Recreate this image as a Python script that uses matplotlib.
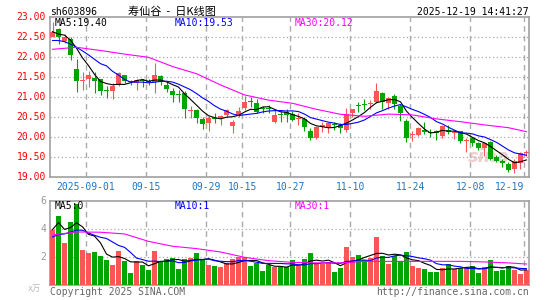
import numpy as np
import pandas as pd
import matplotlib
matplotlib.use('Agg')
import matplotlib.pyplot as plt

# 寿仙谷 sh603896 daily K-line, 80 sessions (2025-08-22 .. 2025-12-19)
opens = [22.52, 22.70, 22.42, 22.47, 21.72, 21.42, 21.47, 21.49, 21.45, 21.18,
         21.17, 21.31, 21.56, 21.40, 21.37, 21.44, 21.41, 21.39, 21.53, 21.31,
         21.16, 21.09, 21.10, 20.67, 20.68, 20.45, 20.37, 20.49, 20.48, 20.56,
         20.29, 20.53, 20.73, 20.90, 20.86, 20.73, 20.74, 20.38, 20.59, 20.64,
         20.58, 20.47, 20.46, 20.16, 19.99, 20.27, 20.27, 20.33, 20.31, 20.18,
         20.60, 20.80, 20.83, 20.84, 20.875, 21.10, 20.85, 21.04, 20.79, 20.41,
         20.05, 20.06, 20.18, 20.13, 20.16, 20.04, 20.18, 20.12, 20.16, 19.92,
         19.975, 19.85, 19.74, 19.875, 19.50, 19.42, 19.33, 19.21, 19.35, 19.62]
highs = [22.89, 22.73, 22.58, 22.50, 21.95, 21.64, 21.67, 21.64, 21.47, 21.28,
         21.35, 21.63, 21.57, 21.44, 21.45, 21.47, 21.45, 21.865, 21.55, 21.38,
         21.24, 21.18, 21.15, 20.79, 20.71, 20.52, 20.53, 20.60, 20.555, 20.72,
         20.43, 20.77, 21.03, 21.00, 20.95, 20.79, 20.81, 20.70, 20.66, 20.70,
         20.66, 20.60, 20.52, 20.23, 20.29, 20.375, 20.39, 20.375, 20.35, 20.74,
         20.71, 20.875, 20.95, 20.93, 21.35, 21.125, 21.02, 21.075, 20.825, 20.46,
         20.16, 20.27, 20.375, 20.21, 20.18, 20.31, 20.31, 20.18, 20.17, 19.99,
         20.02, 19.89, 19.89, 19.91, 19.56, 19.46, 19.39, 19.47, 19.625, 19.68]
lows = [22.50, 22.33, 22.37, 21.93, 21.14, 21.18, 21.25, 21.12, 21.06, 20.975,
        20.96, 21.29, 21.36, 21.30, 21.18, 21.27, 21.30, 21.115, 21.30, 21.13,
        20.875, 20.89, 20.49, 20.49, 20.35, 20.20, 20.17, 20.35, 20.30, 20.51,
        20.12, 20.50, 20.68, 20.765, 20.60, 20.60, 20.60, 20.37, 20.375, 20.375,
        20.40, 20.31, 20.16, 19.93, 19.96, 20.125, 20.10, 20.18, 20.10, 20.125,
        20.52, 20.64, 20.68, 20.71, 20.85, 20.71, 20.71, 20.71, 20.41, 19.89,
        19.91, 20.04, 20.075, 20.02, 19.93, 19.99, 20.075, 19.96, 19.85, 19.64,
        19.79, 19.68, 19.54, 19.43, 19.39, 19.27, 19.14, 19.10, 19.21, 19.54]
closes = [22.64, 22.52, 22.50, 22.06, 21.42, 21.43, 21.55, 21.41, 21.17, 21.16,
          21.28, 21.60, 21.40, 21.38, 21.43, 21.41, 21.38, 21.55, 21.39, 21.20,
          21.07, 21.07, 20.71, 20.69, 20.48, 20.33, 20.49, 20.47, 20.54, 20.68,
          20.39, 20.66, 20.89, 20.88, 20.64, 20.70, 20.72, 20.56, 20.57, 20.56,
          20.43, 20.48, 20.27, 19.99, 20.27, 20.31, 20.35, 20.31, 20.23, 20.575,
          20.70, 20.78, 20.82, 20.87, 21.16, 20.875, 20.975, 20.83, 20.60, 19.99,
          20.07, 20.24, 20.125, 20.11, 20.10, 20.29, 20.14, 20.13, 19.91, 19.94,
          19.87, 19.74, 19.85, 19.46, 19.41, 19.35, 19.18, 19.41, 19.60, 19.63]
volumes = [3.98, 4.98, 3.02, 4.52, 5.81, 2.55, 2.31, 2.38, 2.07, 1.83,
           1.48, 2.48, 1.71, 0.88, 1.76, 1.48, 1.12, 2.48, 1.71, 1.88,
           1.95, 1.19, 1.88, 1.95, 2.31, 1.88, 1.48, 1.36, 1.31, 1.60,
           1.88, 2.02, 2.00, 1.36, 1.60, 1.05, 1.48, 1.33, 1.29, 1.33,
           1.83, 1.36, 1.88, 2.31, 1.60, 1.52, 1.67, 0.95, 1.24, 2.74,
           2.00, 2.14, 1.83, 1.95, 3.45, 2.07, 1.52, 2.12, 1.71, 2.38,
           1.36, 1.24, 1.17, 0.95, 0.95, 1.24, 1.52, 1.17, 1.24, 1.24,
           1.36, 0.88, 1.31, 1.81, 1.05, 1.12, 1.36, 1.12, 0.81, 1.10]

ma10_head = [22.42, 22.42, 22.39, 22.33, 22.25, 22.16, 22.06, 21.95, 21.84]
vol_ma10_head = [3.45, 3.62, 3.67, 3.79, 3.95, 3.93, 3.74, 3.57, 3.43]
ma_idx = list(range(0, 80, 4)) + [79]
ma30 = [22.20, 22.25, 22.17, 22.08, 22.00, 21.77, 21.59, 21.31, 21.06, 20.93, 20.85,
        20.70, 20.575, 20.525, 20.58, 20.56, 20.46, 20.39, 20.31, 20.24, 20.14]
vol_ma30 = [3.60, 3.81, 3.79, 3.67, 3.14, 2.79, 2.62, 2.38, 2.00, 1.76, 1.64,
            1.60, 1.60, 1.71, 1.71, 1.71, 1.71, 1.71, 1.67, 1.60, 1.52]

tick_idx = [6, 16, 26, 32, 40, 50, 60, 70, 79]
tick_labels = ['2025-09-01', '09-15', '09-29', '10-15', '10-27', '11-10', '11-24', '12-08', '12-19']
price_ticks = [19.0, 19.5, 20.0, 20.5, 21.0, 21.5, 22.0, 22.5, 23.0]
vol_ticks = [2, 4, 6]

RED = '#fc5555'
GREEN = '#00a600'
GRID = '#aaaaaa'
MONO = 'DejaVu Sans Mono'
W, H = 545, 300

df = pd.DataFrame({'open': opens, 'high': highs, 'low': lows, 'close': closes, 'vol': volumes})
df['up'] = df['close'] >= df['open']
df['ma5'] = df['close'].rolling(5, min_periods=1).mean()
df['ma10'] = df['close'].rolling(10).mean()
df.loc[:8, 'ma10'] = ma10_head
df['vma5'] = df['vol'].rolling(5, min_periods=1).mean()
df['vma10'] = df['vol'].rolling(10).mean()
df.loc[:8, 'vma10'] = vol_ma10_head
x = np.arange(len(df))
colors = np.where(df['up'], RED, GREEN)

fig = plt.figure(figsize=(W / 100, H / 100), dpi=100)
ax = fig.add_axes([50 / W, 1 - 177.3 / H, 479 / W, 160 / H])
axv = fig.add_axes([50 / W, 1 - 285.3 / H, 479 / W, 84 / H])


def ftext(px, py, s, **kw):
    fig.text(px / W, 1 - py / H, s, va='center', **kw)


for a in (ax, axv):
    a.set_xlim(-0.42, 79.42)
    a.set_xticks([])
    a.set_yticks([])
    for sp in a.spines.values():
        sp.set_color('#a0a0a0')
        sp.set_linewidth(1.2)
    for t in tick_idx:
        a.axvline(t - 0.4, color=GRID, lw=1.0, ls=(0, (4, 3)), zorder=1)

ax.set_ylim(19, 23)
for p in price_ticks[1:-1]:
    ax.axhline(p, color=GRID, lw=0.9, ls=(0, (1, 2)), zorder=1)
axv.set_ylim(0, 6)
for v in vol_ticks[:-1]:
    axv.axhline(v, color=GRID, lw=0.9, ls=(0, (1, 2)), zorder=1)

# candles
ax.vlines(x, df['low'], df['high'], colors=colors, lw=0.8, zorder=3)
body_low = np.minimum(df['open'], df['close'])
body_h = np.maximum((df['close'] - df['open']).abs(), 0.025)
ax.bar(x, body_h, bottom=body_low, width=0.8, color=colors, lw=0, zorder=3)

ax.plot(x, df['ma5'], color='black', lw=0.8, zorder=4)
ax.plot(x, df['ma10'], color='#0000ff', lw=0.8, zorder=4)
ax.plot(ma_idx, ma30, color='#ff00ff', lw=0.8, zorder=4)

ax.text(0.96, 0.07, 'sina', transform=ax.transAxes, ha='right', va='bottom',
        fontsize=13, fontweight='bold', fontstyle='italic', color='#e0b0b0', alpha=0.6, zorder=2)

# volume
axv.bar(x, df['vol'], width=0.83, color=colors, lw=0, zorder=3)
axv.plot(x, df['vma5'], color='black', lw=0.8, zorder=4)
axv.plot(x, df['vma10'], color='#0000ff', lw=0.8, zorder=4)
axv.plot(ma_idx, vol_ma30, color='#ff00ff', lw=0.8, zorder=4)

# texts
ftext(50, 12, 'sh603896', family=MONO, fontsize=7, color='black', ha='left')
ftext(172, 12, '寿仙谷  -  日K线图', family=['Noto Sans CJK SC', 'DejaVu Sans'], fontsize=8, color='black', ha='center')
ftext(529, 12, '2025-12-19 14:41:27', family=MONO, fontsize=7, color='black', ha='right')

ftext(55, 23.5, 'MA5:19.40', family=MONO, fontsize=7, color='black', ha='left')
ftext(175, 23.5, 'MA10:19.53', family=MONO, fontsize=7, color='#0000ff', ha='left')
ftext(295, 23.5, 'MA30:20.12', family=MONO, fontsize=7, color='#ff00ff', ha='left')

for p in price_ticks:
    ftext(46, 177.3 - (p - 19) * 40, f'{p:.2f}', family=MONO, fontsize=7, color='#ff0000', ha='right')

for t, lab in zip(tick_idx, tick_labels):
    px = 52.5 + 6 * t - 2.4
    ha = 'right' if t == tick_idx[-1] else 'center'
    ftext(px, 187.5, lab, family=MONO, fontsize=7, color='#1a78c8', ha=ha)

for v in vol_ticks:
    ftext(46, 285.3 - v * 14, str(v), family=MONO, fontsize=7, color='#999999', ha='right')

ftext(55, 206, 'MA5:0', family=MONO, fontsize=7, color='black', ha='left')
ftext(175, 206, 'MA10:1', family=MONO, fontsize=7, color='#0000ff', ha='left')
ftext(295, 206, 'MA30:1', family=MONO, fontsize=7, color='#ff00ff', ha='left')

ftext(28, 288, 'x万', family=[MONO, 'Noto Sans CJK SC'], fontsize=6, color='#bbbbbb', ha='left')
ftext(50, 292, 'Copyright 2025 SINA.COM', family=MONO, fontsize=7, color='#666666', ha='left')
ftext(529, 292, 'http://finance.sina.com.cn', family=MONO, fontsize=7, color='#666666', ha='right')

fig.savefig('out.png', dpi=100)
